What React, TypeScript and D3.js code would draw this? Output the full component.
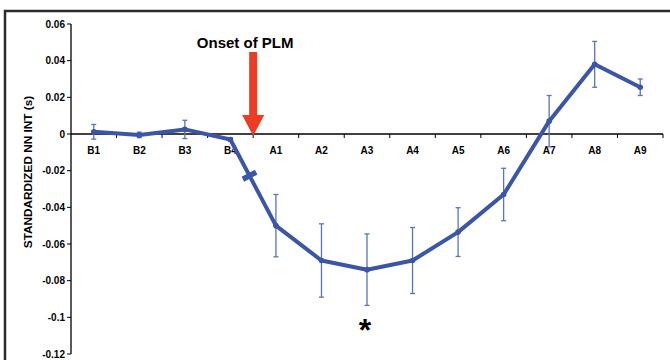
import React from "react";
import * as d3 from "d3";

const categories = ["B1", "B2", "B3", "B4", "A1", "A2", "A3", "A4", "A5", "A6", "A7", "A8", "A9"];
const means = [0.0012, -0.0005, 0.0025, -0.003, -0.05, -0.069, -0.074, -0.069, -0.0535, -0.033, 0.007, 0.038, 0.0255];
const errors = [0.004, 0.0015, 0.005, 0.001, 0.017, 0.02, 0.0195, 0.018, 0.0133, 0.0143, 0.014, 0.0125, 0.0045];
const yTicks = [0.06, 0.04, 0.02, 0, -0.02, -0.04, -0.06, -0.08, -0.1, -0.12];
const yTickLabels = ["0.06", "0.04", "0.02", "0", "-0.02", "-0.04", "-0.06", "-0.08", "-0.1", "-0.12"];

const W = 670;
const H = 360;
const margin = { left: 71, right: 7, top: 24, bottom: 6 };
const blue = "#3b56a6";
const font = "Liberation Sans, Arial, sans-serif";

const App = () => {
  const x = d3
    .scaleBand()
    .domain(categories)
    .range([margin.left, W - margin.right]);
  const y = d3
    .scaleLinear()
    .domain([-0.12, 0.06])
    .range([H - margin.bottom, margin.top]);

  const cx = (i: number) => (x(categories[i]) as number) + x.bandwidth() / 2;
  const line = d3
    .line<number>()
    .x((d, i) => cx(i))
    .y((d) => y(d));

  // break mark on B4 -> A1 segment
  const bx0 = cx(3), by0 = y(means[3]);
  const bx1 = cx(4), by1 = y(means[4]);
  const t = 0.42;
  const mx = bx0 + (bx1 - bx0) * t;
  const my = by0 + (by1 - by0) * t;
  const len = Math.hypot(bx1 - bx0, by1 - by0);
  const ux = (bx1 - bx0) / len, uy = (by1 - by0) / len;
  const px = -uy, py = ux;

  const onsetX = x("A1") as number;
  const y0 = y(0);

  return (
    <svg width={W} height={H} style={{ position: "fixed", left: 0, top: 0, background: "#fff" }}>
      <rect x={5} y={11} width={720} height={420} fill="none" stroke="#2b2b2b" strokeWidth={2.5} />

      {/* y axis */}
      <line x1={margin.left} x2={margin.left} y1={y(0.06)} y2={y(-0.12)} stroke="#000" strokeWidth={1.3} />
      {yTicks.map((v, i) => (
        <g key={v}>
          <line x1={margin.left - 4} x2={margin.left} y1={y(v)} y2={y(v)} stroke="#000" strokeWidth={1} />
          <text
            x={margin.left - 6}
            y={y(v)}
            dy="0.35em"
            textAnchor="end"
            fontFamily={font}
            fontWeight="bold"
            fontSize={10}
          >
            {yTickLabels[i]}
          </text>
        </g>
      ))}
      <text
        transform="translate(32 172) rotate(-90)"
        textAnchor="middle"
        fontFamily={font}
        fontWeight="bold"
        fontSize={11.8}
      >
        STANDARDIZED NN INT (s)
      </text>

      {/* x axis */}
      <line x1={margin.left} x2={W - margin.right} y1={y0} y2={y0} stroke="#000" strokeWidth={1.3} />
      {categories.map((c, i) => (
        <g key={c}>
          <line
            x1={(x(c) as number) + x.bandwidth()}
            x2={(x(c) as number) + x.bandwidth()}
            y1={y0}
            y2={y0 + 4}
            stroke="#000"
            strokeWidth={1}
          />
          <text x={cx(i)} y={y0 + 20} textAnchor="middle" fontFamily={font} fontWeight="bold" fontSize={10}>
            {c}
          </text>
        </g>
      ))}

      {/* error bars */}
      {means.map((m, i) => (
        <g key={i} stroke="#5b73b8" strokeWidth={1.3}>
          <line x1={cx(i)} x2={cx(i)} y1={y(m + errors[i])} y2={y(m - errors[i])} />
          <line x1={cx(i) - 2.5} x2={cx(i) + 2.5} y1={y(m + errors[i])} y2={y(m + errors[i])} />
          <line x1={cx(i) - 2.5} x2={cx(i) + 2.5} y1={y(m - errors[i])} y2={y(m - errors[i])} />
        </g>
      ))}

      <path d={line(means) as string} fill="none" stroke={blue} strokeWidth={4} strokeLinejoin="round" />
      {means.map((m, i) => (
        <circle key={i} cx={cx(i)} cy={y(m)} r={2.8} fill={blue} />
      ))}

      {/* break mark */}
      <line
        x1={mx - px * 7.5}
        y1={my - py * 7.5}
        x2={mx + px * 7.5}
        y2={my + py * 7.5}
        stroke={blue}
        strokeWidth={5.5}
      />

      {/* onset arrow */}
      <rect x={onsetX - 4} y={52} width={8} height={64} fill="#ee3b24" />
      <path
        d={`M${onsetX - 11},115 L${onsetX + 11},115 L${onsetX},${y0 + 2} Z`}
        fill="#ee3b24"
      />
      <text x={onsetX - 8} y={48} textAnchor="middle" fontFamily={font} fontWeight="bold" fontSize={15}>
        Onset of PLM
      </text>

      <text x={cx(6) - 2} y={y(-0.1) + 24} textAnchor="middle" fontFamily={font} fontWeight="bold" fontSize={32}>
        *
      </text>
    </svg>
  );
};

export default App;
